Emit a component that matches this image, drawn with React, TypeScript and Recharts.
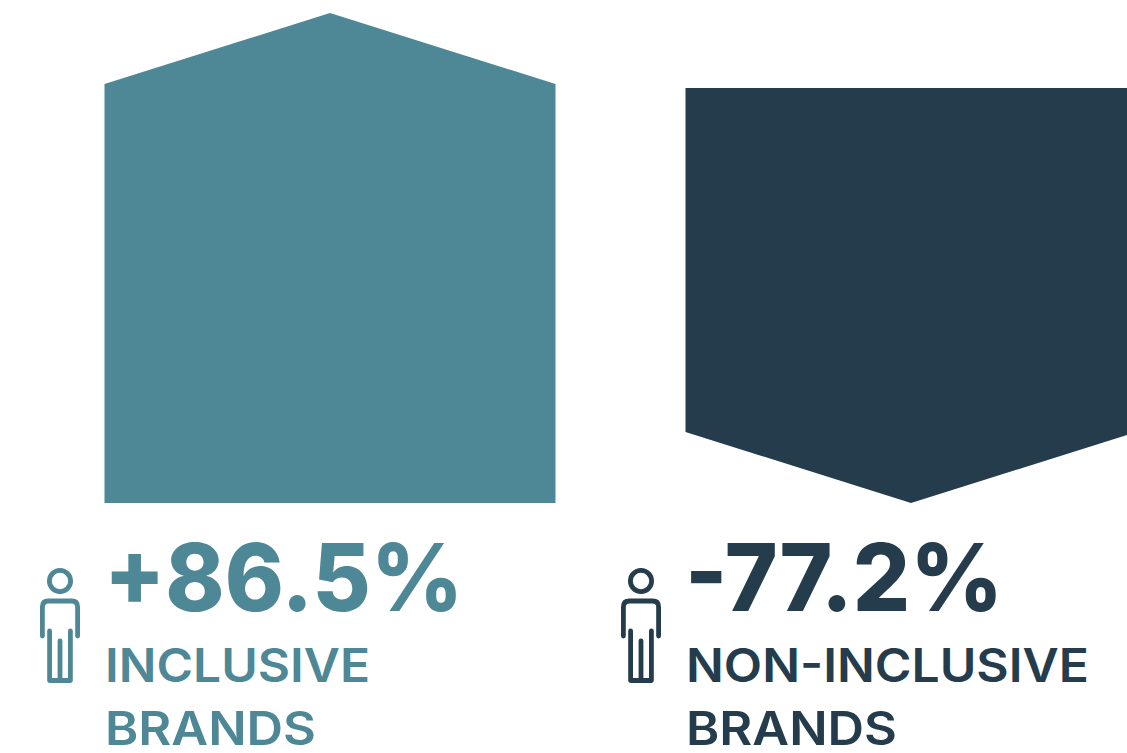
import React from 'react';
import { BarChart, Bar, XAxis, YAxis } from 'recharts';

const categories = ['INCLUSIVE BRANDS', 'NON-INCLUSIVE BRANDS'];
const changes = [86.5, -77.2];
const labelLines = [
  ['INCLUSIVE', 'BRANDS'],
  ['NON-INCLUSIVE', 'BRANDS'],
];

const colors = ['#4e8795', '#243c4b'];
const fontFamily = 'Inter, sans-serif';
const arrowTip = 71;

// Inter is narrower than the original face, so the text is fitted to the measured widths
const valueWidths = [359, 318];
const lineWidths = [
  [265, 211],
  [403, 211],
];

// each arrow has its own scale in the picture, so each gets its own chart
const panels = [
  { top: 13, bottom: 0, left: 104.5, right: 584.5 },
  { top: 88, bottom: 0, left: 685.5, right: 3.5 },
];

function ArrowShape({ x, y, width, height, payload, fill }: any) {
  const mid = x + width / 2;
  const bottom = y + height;
  const d =
    payload.change >= 0
      ? `M${x},${y + arrowTip}L${mid},${y}L${x + width},${y + arrowTip}L${x + width},${bottom}L${x},${bottom}Z`
      : `M${x},${y}L${x + width},${y}L${x + width},${bottom - arrowTip}L${mid},${bottom}L${x},${bottom - arrowTip}Z`;
  return <path d={d} fill={fill} />;
}

function Person({ x, y, color }: { x: number; y: number; color: string }) {
  return (
    <g transform={`translate(${x},${y})`} fill="none" stroke={color} strokeWidth={4.8} strokeLinecap="round" strokeLinejoin="round">
      <circle cx={0} cy={78} r={10.6} />
      <path d="M-17.6,133 V104 Q-17.6,98 -11.6,98 H11.6 Q17.6,98 17.6,104 V133" />
      <path d="M-10.4,128 V177.5 H10.4 V128" />
      <path d="M0,138 V177" />
    </g>
  );
}

function BrandTick({ x, y, index, color }: any) {
  const i = index;
  const sign = changes[i] > 0 ? '+' : '-';
  return (
    <g fontFamily={fontFamily} fill={color}>
      <Person x={x - 270} y={y} color={color} />
      <text x={x - 226} y={y + 108} fontSize={93} fontWeight={800} textLength={valueWidths[i]} lengthAdjust="spacingAndGlyphs">
        {`${sign}${Math.abs(changes[i])}%`}
      </text>
      {labelLines[i].map((line, n) => (
        <text
          key={line}
          x={x - 225}
          y={y + 179 + n * 63}
          fontSize={46}
          fontWeight={600}
          textLength={lineWidths[i][n]}
          lengthAdjust="spacingAndGlyphs"
        >
          {line}
        </text>
      ))}
    </g>
  );
}

function ArrowPanel({ index }: { index: number }) {
  const data = [{ name: categories[index], size: Math.abs(changes[index]), change: changes[index] }];
  const color = colors[index];
  return (
    <div style={{ position: 'absolute', left: 0, top: 0 }}>
      <BarChart width={1140} height={753} data={data} margin={panels[index]} barCategoryGap={0}>
        <XAxis
          dataKey="name"
          axisLine={false}
          tickLine={false}
          tickSize={0}
          tickMargin={0}
          height={250}
          interval={0}
          tick={(props: any) => <BrandTick {...props} index={index} color={color} />}
        />
        <YAxis hide domain={[0, Math.abs(changes[index])]} />
        <Bar dataKey="size" fill={color} shape={<ArrowShape />} isAnimationActive={false} />
      </BarChart>
    </div>
  );
}

export default function App() {
  return (
    <div style={{ position: 'fixed', left: 0, top: 0, width: 1127, height: 753, overflow: 'hidden', background: '#ffffff' }}>
      <ArrowPanel index={0} />
      <ArrowPanel index={1} />
    </div>
  );
}
